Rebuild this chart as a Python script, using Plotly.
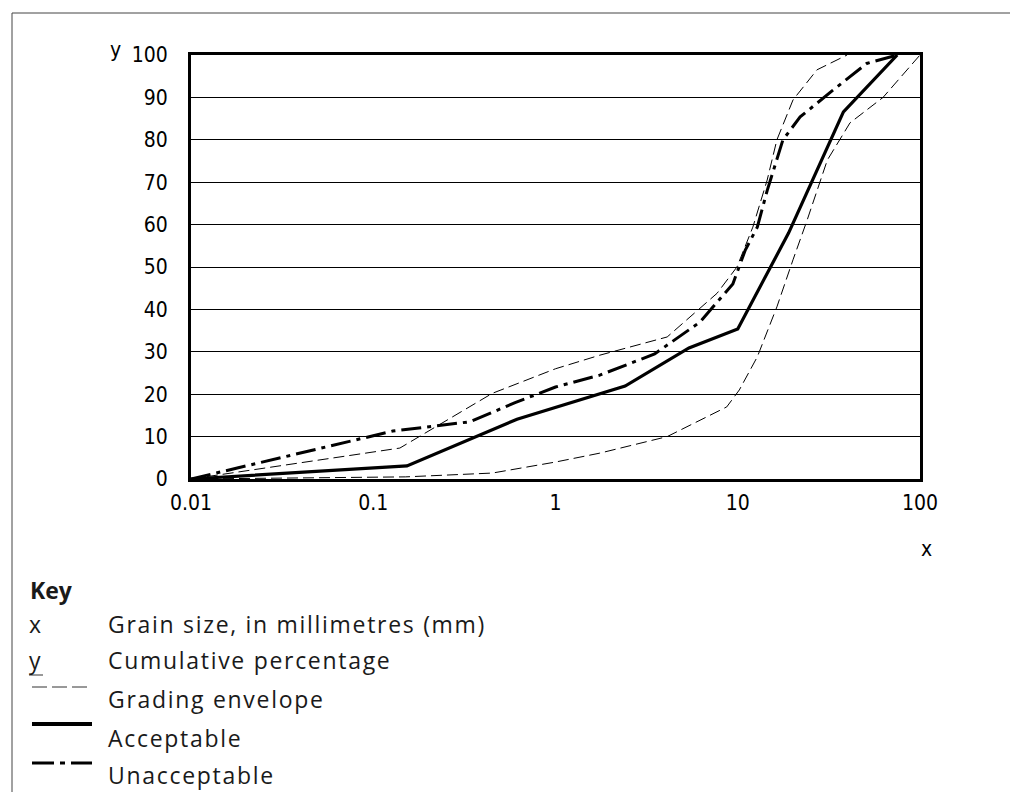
import plotly.graph_objects as go

# ---- data ----
x_ticks = [0.01, 0.1, 1, 10, 100]
x_tick_labels = ["0.01", "0.1", "1", "10", "100"]
y_ticks = [0, 10, 20, 30, 40, 50, 60, 70, 80, 90, 100]

upper_x = [0.01, 0.14, 0.22, 0.45, 1, 1.75, 4.1, 7.7, 9.9, 12.1, 14.5, 16.4, 20.1, 27.2, 39.8]
upper_y = [0, 7.3, 12.3, 20.2, 26, 29.2, 33.5, 43.8, 50, 59.4, 70.5, 80, 89.4, 96.5, 100]

lower_x = [0.01, 0.15, 0.45, 1, 1.75, 4.1, 8.7, 10.2, 12.8, 16.4, 20.1, 24, 31, 41.3, 62.7, 100]
lower_y = [0, 0.5, 1.4, 4, 6.1, 10, 17, 21, 28.8, 40.6, 51.7, 61, 75.2, 84, 90, 100]

acc_x = [0.01, 0.153, 0.615, 2.41, 5.4, 10, 19, 38, 75]
acc_y = [0, 3.1, 14.1, 21.9, 30.9, 35.4, 58, 86.6, 100]

unacc_x = [0.01, 0.128, 0.34, 0.6, 1, 1.75, 3.5, 6.2, 9.4, 11.0, 12.8, 14.5, 17.7, 22, 33.3, 51, 75]
unacc_y = [0, 11.3, 13.5, 18, 21.7, 24.5, 29.5, 37, 46, 54, 59.4, 68, 80, 85.4, 91.7, 98, 100]

key_symbols = ["x", "y"]
key_texts = ["Grain size, in millimetres (mm)", "Cumulative percentage"]
line_key_texts = ["Grading envelope", "Acceptable", "Unacceptable"]

# ---- geometry (page pixels; the page body has an 8px margin) ----
OFF = 8
FIG_W, FIG_H = 1010, 784
PL, PR, PT, PB = 191, 920, 55, 479          # plot area on the page
L, R, T, B = PL - OFF, PR - OFF, PT - OFF, PB - OFF
PW, PH = R - L, B - T

def px(xp):
    return (xp - OFF - L) / PW

def py(yp):
    return (B - (yp - OFF)) / PH

TICK_FONT = dict(family="Liberation Sans Narrow, DejaVu Sans Condensed, Arial Narrow, sans-serif",
                 size=21, color="#000")
KEY_FONT = dict(family="Open Sans, Noto Sans, sans-serif", size=23, color="#1a1a1a")
LS = '<span style="letter-spacing:1.7px">{}</span>'

DASH = "11px,5px"
DASHDOT = "20px,6px,4px,6px"

fig = go.Figure()

fig.add_trace(go.Scatter(x=upper_x, y=upper_y, mode="lines", name="Grading envelope",
                         line=dict(color="black", width=1, dash=DASH), showlegend=False))
fig.add_trace(go.Scatter(x=lower_x, y=lower_y, mode="lines", name="Grading envelope",
                         line=dict(color="black", width=1, dash=DASH), showlegend=False))
fig.add_trace(go.Scatter(x=acc_x, y=acc_y, mode="lines", name="Acceptable",
                         line=dict(color="black", width=3.2), showlegend=False))
fig.add_trace(go.Scatter(x=unacc_x, y=unacc_y, mode="lines", name="Unacceptable",
                         line=dict(color="black", width=3, dash=DASHDOT), showlegend=False))

shapes = []
# outer frame (left and top edges visible)
shapes.append(dict(type="rect", xref="paper", yref="paper",
                   x0=px(12), x1=px(1200), y0=py(1000), y1=py(13),
                   line=dict(color="#444", width=1), layer="below"))

annotations = []
# axis letters
annotations.append(dict(text="y", xref="paper", yref="paper", x=px(115), y=py(50),
                        showarrow=False, font=TICK_FONT, xanchor="center", yanchor="middle"))
annotations.append(dict(text="x", xref="paper", yref="paper", x=px(926), y=py(549),
                        showarrow=False, font=TICK_FONT, xanchor="center", yanchor="middle"))

# key
annotations.append(dict(text="<b>Key</b>", xref="paper", yref="paper", x=px(28), y=py(590),
                        showarrow=False, font=KEY_FONT, xanchor="left", yanchor="middle"))
rows = [624, 660]
for s, t, yy in zip(key_symbols, key_texts, rows):
    annotations.append(dict(text=LS.format(s), xref="paper", yref="paper", x=px(27), y=py(yy),
                            showarrow=False, font=KEY_FONT, xanchor="left", yanchor="middle"))
    annotations.append(dict(text=LS.format(t), xref="paper", yref="paper", x=px(106), y=py(yy),
                            showarrow=False, font=KEY_FONT, xanchor="left", yanchor="middle"))
# small underline under the "y" symbol
shapes.append(dict(type="line", xref="paper", yref="paper", x0=px(29), x1=px(43),
                   y0=py(675), y1=py(675), line=dict(color="#333", width=1)))

line_rows = [699, 738, 775]
line_marks = [687, 724, 763]
line_styles = [dict(width=1, dash="15px,5px", color="#333"),
               dict(width=4, color="black"),
               dict(width=3, dash="22px,6px,5px,6px", color="black")]
for t, yy, ly, st in zip(line_key_texts, line_rows, line_marks, line_styles):
    annotations.append(dict(text=LS.format(t), xref="paper", yref="paper", x=px(106), y=py(yy),
                            showarrow=False, font=KEY_FONT, xanchor="left", yanchor="middle"))
    shapes.append(dict(type="line", xref="paper", yref="paper",
                       x0=px(32), x1=px(92), y0=py(ly), y1=py(ly), line=st))

fig.update_layout(
    width=FIG_W, height=FIG_H,
    margin=dict(l=L, r=FIG_W - R, t=T, b=FIG_H - B, pad=0),
    paper_bgcolor="white", plot_bgcolor="white",
    shapes=shapes, annotations=annotations,
    showlegend=False,
)
fig.update_xaxes(type="log", range=[-2, 2], tickvals=x_ticks, ticktext=x_tick_labels,
                 showgrid=False, zeroline=False, showline=True, linecolor="black", linewidth=3,
                 mirror=True, ticks="", tickfont=TICK_FONT, ticklabelstandoff=3)
fig.update_yaxes(range=[0, 100], tickvals=y_ticks, showgrid=True, gridcolor="black", gridwidth=1,
                 zeroline=False, showline=True, linecolor="black", linewidth=3, mirror=True,
                 ticks="", tickfont=TICK_FONT, ticklabelstandoff=16)

fig.write_html("out.html")
